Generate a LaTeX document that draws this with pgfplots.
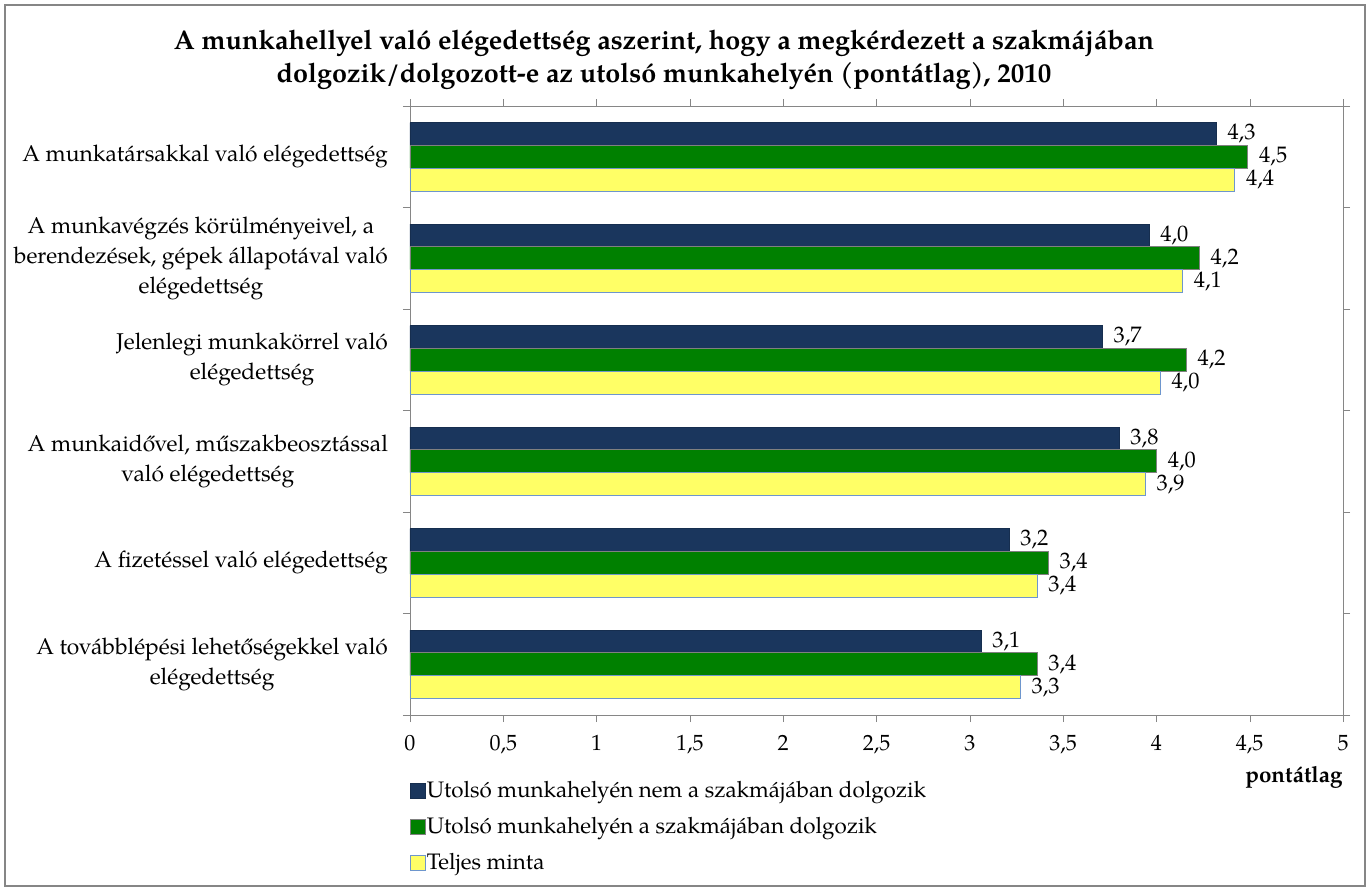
\documentclass[border=0pt]{standalone}
\usepackage{fontspec}
\setmainfont{TeX Gyre Pagella}
\usepackage{pgfplots}
\pgfplotsset{compat=1.18}
\definecolor{navy}{RGB}{26,54,93}
\definecolor{dgreen}{RGB}{0,128,0}
\definecolor{lyellow}{RGB}{255,255,102}
\definecolor{framegray}{RGB}{134,134,134}
\definecolor{ybord}{RGB}{110,150,205}
\pgfplotsset{sqlegend/.style={legend image code/.code={\draw[##1] (0pt,-3.6pt) rectangle (7.2pt,3.6pt);}}}
\begin{document}
\begin{tikzpicture}[x=1pt,y=1pt]
\path[use as bounding box] (-205,-88) rectangle (480,357.5);
\draw[framegray, line width=0.6pt] (-202.5,-85.5) rectangle (477.5,355);
\node[font=\rmfamily\fontsize{13.5}{16.5}\selectfont\bfseries, align=center] at (127,327.5)
 {A munkahellyel való elégedettség aszerint, hogy a megkérdezett a szakmájában\\dolgozik/dolgozott-e az utolsó munkahelyén (pontátlag), 2010};
\begin{axis}[
 scale only axis, width=466.5pt, height=304.5pt,
 at={(0,0)}, anchor=south west,
 xbar=0pt, bar width=11.4pt,
 xmin=0, xmax=5, ymin=-0.5, ymax=5.5,
 xtick={0,0.5,...,5},
 ytick={0,...,5},
 yticklabels={{A továbblépési lehetőségekkel való\\elégedettség},
   {A fizetéssel való elégedettség},
   {A munkaidővel, műszakbeosztással\\való elégedettség},
   {Jelenlegi munkakörrel való\\elégedettség},
   {A munkavégzés körülményeivel, a\\berendezések, gépek állapotával való\\elégedettség},
   {A munkatársakkal való elégedettség}},
 minor ytick={-0.5,0.5,...,5.5},
 axis line style={framegray},
 tick align=outside,
 major tick length=3.5pt, minor tick length=3.5pt,
 major y tick style={draw=none},
 minor y tick style={draw=framegray},
 x tick style={draw=framegray},
 /pgf/number format/assume math mode=true,
 /pgf/number format/use comma,
 ticklabel style={font=\rmfamily\fontsize{11}{13}\selectfont},
 yticklabel style={align=center, font=\rmfamily\fontsize{11.4}{15}\selectfont, xshift=-4pt},
 xticklabel style={yshift=-3pt},
 xlabel={pontátlag},
 xlabel style={at={(axis description cs:1,0)}, anchor=east, yshift=-31pt, font=\rmfamily\fontsize{11.2}{13}\selectfont\bfseries, inner sep=0pt},
 nodes near coords,
 nodes near coords style={anchor=west, inner sep=0pt, xshift=5.5pt, font=\rmfamily\fontsize{11.2}{13}\selectfont,
   /pgf/number format/.cd, fixed, zerofill, precision=1, use comma, assume math mode=true},
 legend style={at={(axis description cs:0,0)}, anchor=north west, draw=none, fill=none,
   xshift=-3pt, yshift=-31pt, row sep=8.3pt, font=\rmfamily\fontsize{11.2}{13}\selectfont,
   nodes={inner xsep=0.6pt, inner ysep=0pt, font=\rmfamily\fontsize{11.2}{13}\selectfont}},
 legend cell align=left,
]
\addplot[fill=navy, draw=navy!85!black, bar shift=11.4pt, sqlegend]
  coordinates {(3.06,0) (3.21,1) (3.80,2) (3.71,3) (3.96,4) (4.32,5)};
\addplot[fill=dgreen, draw=gray, bar shift=0pt, sqlegend]
  coordinates {(3.36,0) (3.42,1) (4.00,2) (4.16,3) (4.23,4) (4.49,5)};
\addplot[fill=lyellow, draw=ybord, bar shift=-11.4pt, sqlegend]
  coordinates {(3.27,0) (3.36,1) (3.94,2) (4.02,3) (4.14,4) (4.42,5)};
\legend{Utolsó munkahelyén nem a szakmájában dolgozik, Utolsó munkahelyén a szakmájában dolgozik, Teljes minta}
\end{axis}
\end{tikzpicture}
\end{document}
